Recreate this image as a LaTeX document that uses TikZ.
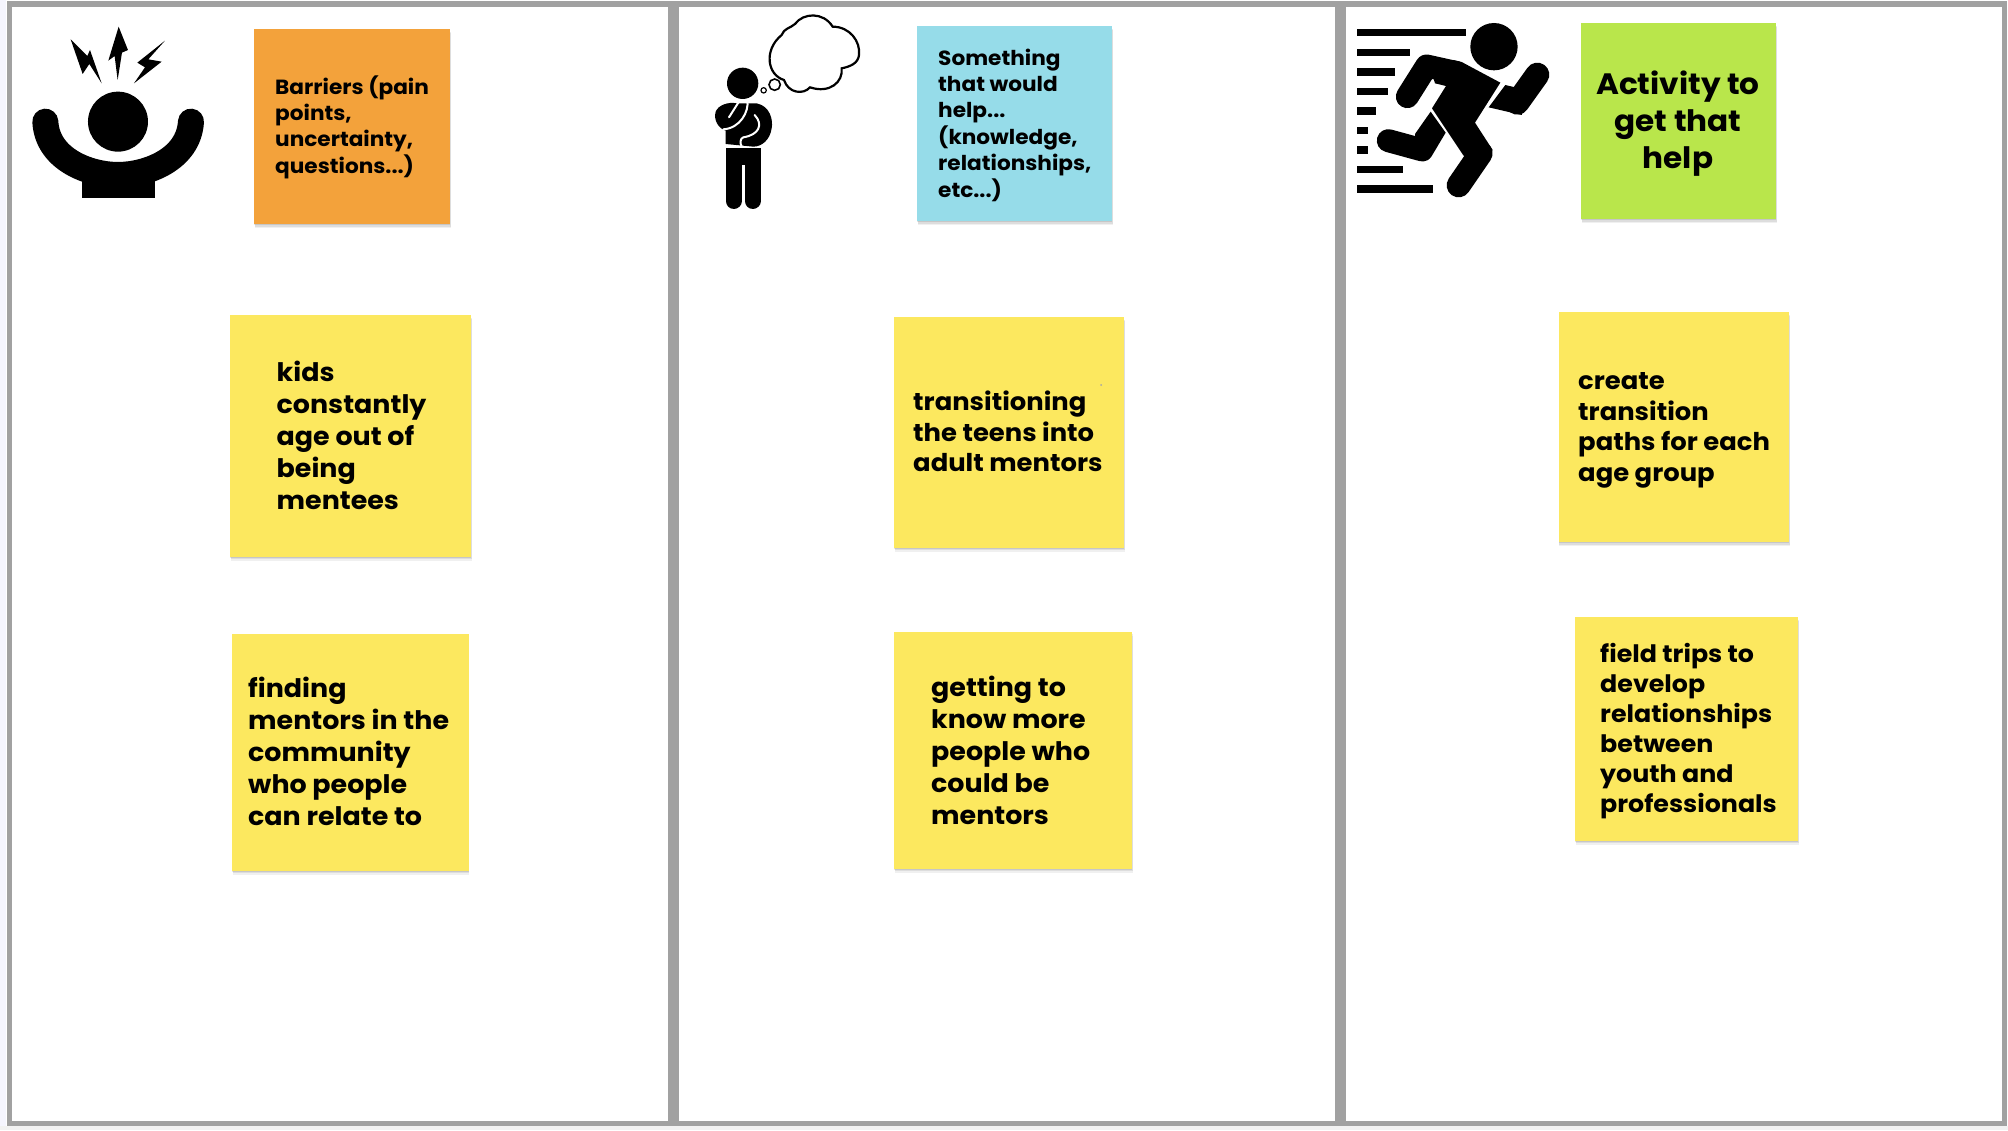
\documentclass[tikz,border=0pt]{standalone}
\usepackage{fontspec}
\setmainfont[FakeStretch=1.055]{Poppins}
\usetikzlibrary{shadows,calc}
\definecolor{framegray}{HTML}{A1A1A1}
\definecolor{noteyellow}{HTML}{FCE85F}
\definecolor{noteorange}{HTML}{F3A23B}
\definecolor{noteblue}{HTML}{96DCE9}
\definecolor{notegreen}{HTML}{B9E64B}
\tikzset{
  stick/.style={draw=black,line cap=round,line join=round},
  note/.style={rectangle,draw=none,inner sep=0pt,anchor=north west,
    drop shadow={shadow xshift=0.6pt,shadow yshift=-4pt,opacity=.06,fill=black},
    drop shadow={shadow xshift=0.4pt,shadow yshift=-2.5pt,opacity=.08,fill=black},
    drop shadow={shadow xshift=0.2pt,shadow yshift=-1.2pt,opacity=.10,fill=black}},
  txt/.style={inner sep=0pt,anchor=west,align=left,text=black},
  big/.style={txt,font=\fontsize{25.5}{32}\selectfont\bfseries},
  mid/.style={txt,font=\fontsize{24.5}{30.5}\selectfont\bfseries},
  small/.style={txt,font=\fontsize{20.5}{26.4}\selectfont\bfseries}
}
\newcommand{\notebox}[7]{% name x0 y0 x1 y1 colour
  \node[note,fill=#6,minimum width=#4pt-#2pt,minimum height=#5pt-#3pt] (#1) at (#2,#3) {#7};}
\begin{document}
\begin{tikzpicture}[x=1pt,y=-1pt]
\useasboundingbox (0,0) rectangle (2008,1130);
\fill[white] (0,0) rectangle (2008,1130);
% page edges
\fill[black!12!blue!4!white] (0,0) rectangle (6,1130);
\fill[black!5] (0,1126) rectangle (2008,1130);
% frame
\fill[framegray] (7,1) rectangle (2007,7);
\fill[framegray] (7,1121) rectangle (2007,1126);
\fill[framegray] (7,1) rectangle (12,1126);
\fill[framegray] (2002,1) rectangle (2007,1126);
\fill[framegray] (668,1) rectangle (679,1126);
\fill[framegray] (1335,1) rectangle (1346,1126);

% header notes
\notebox{barriers}{254}{29}{450}{224}{noteorange}{}
\notebox{something}{917}{26}{1112}{221}{noteblue}{}
\notebox{activity}{1581}{23}{1776}{219}{notegreen}{}
% yellow notes
\notebox{kids}{230}{315}{471}{556.5}{noteyellow}{}
\notebox{finding}{232}{634}{468.5}{870.5}{noteyellow}{}
\notebox{transitioning}{894}{317}{1124}{547.5}{noteyellow}{}
\notebox{getting}{894}{631.5}{1132}{868.5}{noteyellow}{}
\notebox{create}{1558.5}{312}{1789}{542}{noteyellow}{}
\notebox{field}{1575}{617}{1798}{840.5}{noteyellow}{}

% texts
\node[small] (tb) at (275,127) {Barriers (pain\\points,\\uncertainty,\\questions...)};
\node[small] (ts) at (938,125) {Something\\that would\\help...\\(knowledge,\\relationships,\\etc...)};
\node[txt,anchor=center,align=center,font=\fontsize{29.5}{37}\selectfont\bfseries] (ta) at (1678,123.5) {Activity to\\get that\\help};
\node[big] (tk) at (276.5,435) {kids\\constantly\\age out of\\being\\mentees};
\node[big] (tf) at (248,751) {finding\\mentors in the\\community\\who people\\can relate to};
\node[mid] (tt) at (913,431.5) {transitioning\\the teens into\\adult mentors};
\node[big] (tg) at (931,750) {getting to\\know more\\people who\\could be\\mentors};
\node[mid] (tc) at (1578,430.5) {create\\transition\\paths for each\\age group};
\node[txt,font=\fontsize{24}{30}\selectfont\bfseries] (tl) at (1600,731.5) {field trips to\\develop\\relationships\\between\\youth and\\professionals};
\fill[black!35] (1101,385) circle (1);

% frustrated icon
\begin{scope}[x=0.3333pt,y=-0.3333pt]
\fill (354,365) circle (90);
\draw[stick,line width=26pt] (136,365) .. controls (142,480) and (270,525) .. (354,525) .. controls (438,525) and (566,480) .. (573,365);
\fill (245,520) rectangle (465,593);
\fill (212,118) -- (262,168) -- (270,150) -- (305,250) -- (268,192) -- (248,222) -- cycle;
\fill (356,80) -- (384,150) -- (366,158) -- (353,240) -- (344,168) -- (325,182) -- cycle;
\fill (495,122) -- (445,178) -- (485,185) -- (402,250) -- (435,202) -- (412,188) -- cycle;
\end{scope}

% thinker icon
\begin{scope}[shift={(660,0)},x=0.3333pt,y=-0.3333pt]
\fill (248,250) circle (47);
\fill (230,310) -- (290,310) .. controls (330,318) and (340,360) .. (335,385) .. controls (330,420) and (305,440) .. (280,440) -- (197,432) -- (197,392) .. controls (175,385) and (160,360) .. (167,335) .. controls (175,315) and (205,305) .. (230,310) -- cycle;
\draw[white,line width=2pt,line cap=round] (207,352) -- (240,300);
\draw[white,line width=2pt,line cap=round] (262,300) .. controls (268,335) and (240,385) .. (190,388);
\draw[white,line width=2pt,line cap=round] (284,345) .. controls (312,375) and (295,405) .. (250,412) .. controls (240,415) and (240,430) .. (245,440);
\fill (197,445) rectangle (302,495);
\draw[stick,line width=16pt] (221,480) -- (221,603);
\draw[stick,line width=16pt] (278,480) -- (278,603);
\begin{scope}[draw=black,line width=2.2pt,fill=white]
\filldraw (365,105) .. controls (372,85) and (390,85) .. (405,72) .. controls (430,38) and (490,35) .. (518,80) .. controls (570,80) and (602,125) .. (597,165) .. controls (595,190) and (570,200) .. (545,205) .. controls (550,245) and (510,282) .. (450,262) .. controls (430,285) and (385,280) .. (372,240) .. controls (322,225) and (310,150) .. (365,105) -- cycle;
\draw[line width=1.6pt] (344,254) circle (17);
\draw[line width=1.2pt] (311,271) circle (8);
\end{scope}
\end{scope}

% runner icon
\begin{scope}[shift={(1320,0)},x=0.3333pt,y=-0.3333pt]
\fill (522,140) circle (71);
\foreach \yy/\xx in {98/438,157/271,216/225,274/204,333/168,391/145,450/145,508/250,567/340}
  \fill (112,\yy-11) rectangle (\xx,\yy+11);
% arm
\draw[stick,line width=23pt] (262,290) -- (320,198) -- (410,218);
% torso and front leg
\fill (400,180) -- (425,186) -- (541,248) -- (465,368) -- (518,450) -- (475,500) -- (430,466) -- (336,325) -- (378,258) -- (345,250) -- (330,200) -- cycle;
\draw[stick,line width=24pt] (482,460) -- (416,556);
% back leg
\draw[stick,line width=23pt] (205,422) -- (300,448);
\fill (285,402) -- (332,335) -- (377,398) -- (334,470) .. controls (320,490) and (300,485) .. (290,480) -- cycle;
% rear arm
\draw[stick,line width=24pt] (652,224) -- (592,308);
\fill (506,322) -- (556,255) -- (585,262) -- (630,285) -- (605,345) -- cycle;
\end{scope}
\end{tikzpicture}
\end{document}
